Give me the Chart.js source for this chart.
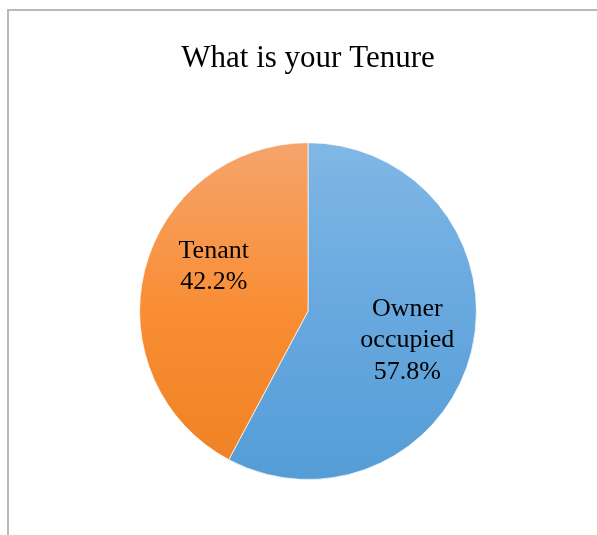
<!DOCTYPE html>
<html lang="en">
<head>
  <meta charset="UTF-8">
  <title>What is your Tenure</title>
  <script src="https://cdn.jsdelivr.net/npm/chart.js"></script>
  <style>
    body {
      margin: 0;
      background-color: white;
    }
    .wrap {
      position: relative;
      width: 597px;
      height: 535px;
    }
    .frame {
      position: absolute;
      left: 7px;
      top: 9px;
      right: 0;
      bottom: 0;
      border-top: 2px solid #b9b9b9;
      border-left: 2px solid #b9b9b9;
    }
    canvas {
      position: absolute;
      left: 0;
      top: 0;
    }
  </style>
</head>
<body>
  <div class="wrap">
    <div class="frame"></div>
    <canvas id="pieChart" width="597" height="535"></canvas>
  </div>

  <script>
    const categories = ['Owner occupied', 'Tenant'];
    const shares = [57.8, 42.2];

    const serif = "'Liberation Serif', 'Times New Roman', serif";

    // top / middle / bottom colour of each slice's vertical shading
    const shades = [
      ['#80b7e5', '#67a8df', '#559dd6'],
      ['#f5a46d', '#f98d33', '#ee8122']
    ];

    function sliceFill(context) {
      const s = shades[context.dataIndex % shades.length];
      const area = context.chart.chartArea;
      if (!area) return s[1];
      const g = context.chart.ctx.createLinearGradient(0, area.top, 0, area.bottom);
      g.addColorStop(0, s[0]);
      g.addColorStop(0.5, s[1]);
      g.addColorStop(1, s[2]);
      return g;
    }

    const sliceLabels = {
      id: 'sliceLabels',
      afterDatasetsDraw(chart) {
        const { ctx } = chart;
        const meta = chart.getDatasetMeta(0);
        const values = chart.data.datasets[0].data;
        const total = values.reduce((a, b) => a + b, 0);
        const nudges = [[-2, 4], [7, -19]];

        ctx.save();
        ctx.font = '26px ' + serif;
        ctx.fillStyle = '#000';
        ctx.textAlign = 'center';
        ctx.textBaseline = 'middle';

        meta.data.forEach((arc, i) => {
          const p = arc.getProps(['x', 'y', 'startAngle', 'endAngle', 'outerRadius'], true);
          const mid = (p.startAngle + p.endAngle) / 2;
          const r = p.outerRadius * 0.62;
          const cx = p.x + Math.cos(mid) * r + nudges[i][0];
          const cy = p.y + Math.sin(mid) * r + nudges[i][1];

          // wrap the category name like the original
          const words = chart.data.labels[i].split(' ');
          const lines = [];
          let line = '';
          words.forEach(w => {
            const test = line ? line + ' ' + w : w;
            if (line && ctx.measureText(test).width > 110) {
              lines.push(line);
              line = w;
            } else {
              line = test;
            }
          });
          lines.push(line);
          lines.push((values[i] / total * 100).toFixed(1) + '%');

          const step = 31.5;
          const startY = cy - (lines.length - 1) * step / 2;
          lines.forEach((t, k) => ctx.fillText(t, cx, startY + k * step));
        });
        ctx.restore();
      }
    };

    const ctx = document.getElementById('pieChart').getContext('2d');
    new Chart(ctx, {
      type: 'pie',
      data: {
        labels: categories,
        datasets: [{
          data: shares,
          backgroundColor: sliceFill,
          borderColor: 'rgba(255,255,255,0.7)',
          borderWidth: 1
        }]
      },
      options: {
        responsive: false,
        animation: false,
        layout: {
          padding: { top: 0, bottom: 55, left: 19, right: 0 }
        },
        plugins: {
          legend: { display: false },
          tooltip: { enabled: false },
          title: {
            display: true,
            text: 'What is your Tenure',
            color: '#000',
            font: { family: serif, size: 31, weight: 'normal', lineHeight: 1.2 },
            padding: { top: 40, bottom: 65 }
          }
        }
      },
      plugins: [sliceLabels]
    });
  </script>
</body>
</html>
